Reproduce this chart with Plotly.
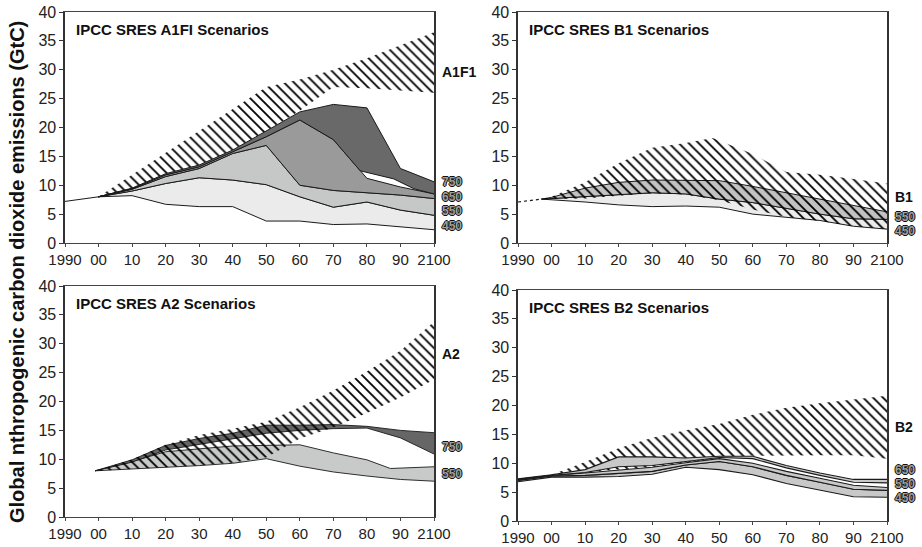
import plotly.graph_objects as go

# ---------------- data ----------------
years = [1990, 2000, 2010, 2020, 2030, 2040, 2050, 2060, 2070, 2080, 2090, 2100]
dec = years[1:]  # 2000..2100
tick_text = ["1990", "00", "10", "20", "30", "40", "50", "60", "70", "80", "90", "2100"]
y_ticks = [0, 5, 10, 15, 20, 25, 30, 35, 40]

# A1FI panel
a1_hist_x = [1990, 2000]
a1_hist_y = [7.2, 8.0]
a1_450_low = [8.0, 8.2, 6.7, 6.3, 6.3, 3.8, 3.8, 3.2, 3.3, 2.8, 2.3]
a1_450_up = [8.0, 9.0, 10.3, 11.3, 10.9, 10.1, 8.0, 6.2, 7.1, 5.7, 4.8]
a1_550_up = [8.0, 9.3, 11.5, 12.9, 15.5, 16.9, 10.0, 9.1, 8.7, 8.3, 7.7]
a1_650_up = [8.0, 9.4, 11.8, 13.2, 15.8, 18.4, 21.3, 17.9, 11.2, 9.7, 8.5]
a1_750_low_x = [2000, 2010, 2020, 2030, 2040, 2050, 2060, 2070, 2078, 2088, 2094, 2100]
a1_750_low = [8.0, 9.4, 11.8, 13.2, 15.8, 18.4, 21.3, 17.9, 12.5, 11.1, 9.4, 8.5]
a1_750_up = [8.0, 9.5, 12.0, 13.5, 16.1, 19.4, 22.7, 24.0, 23.4, 12.9, 10.6]
a1_hatch_low = [8.0, 9.5, 12.0, 13.5, 16.1, 19.4, 22.9, 27.0, 26.8, 26.4, 26.0]
a1_hatch_up = [8.0, 11.8, 15.6, 19.5, 23.3, 27.0, 28.3, 30.0, 32.0, 34.2, 36.5]

# B1 panel
b1_x = [1997, 2000, 2010, 2020, 2030, 2040, 2050, 2060, 2070, 2080, 2090, 2100]
b1_hist_x = [1990, 1997]
b1_hist_y = [7.1, 7.6]
b1_450_low = [7.6, 7.5, 7.1, 6.6, 6.3, 6.4, 6.2, 5.0, 4.4, 3.9, 2.9, 2.4]
b1_450_up = [7.6, 7.7, 8.0, 8.4, 8.7, 8.5, 7.6, 7.0, 6.0, 5.0, 4.2, 4.1]
b1_550_up = [7.6, 7.9, 9.5, 10.5, 10.9, 10.9, 10.8, 9.8, 8.7, 7.5, 6.4, 5.4]
b1_hatch_low = [7.6, 7.6, 7.7, 8.2, 8.6, 8.4, 7.4, 5.8, 4.5, 3.8, 2.9, 2.4]
b1_hatch_up_x = [1997, 2000, 2010, 2020, 2030, 2040, 2048, 2060, 2070, 2080, 2090, 2100]
b1_hatch_up = [7.6, 8.0, 10.5, 13.8, 16.5, 17.3, 18.2, 15.4, 12.3, 11.8, 11.1, 10.3]

# A2 panel
a2_x = [1999, 2010, 2020, 2030, 2040, 2050, 2060, 2070, 2080, 2090, 2100]
a2_550_low = [8.0, 8.3, 8.6, 8.9, 9.3, 10.1, 8.8, 7.8, 7.1, 6.5, 6.2]
a2_550_up_x = [1999, 2010, 2020, 2030, 2040, 2050, 2060, 2070, 2080, 2087, 2100]
a2_550_up = [8.0, 9.6, 11.3, 11.8, 12.3, 12.4, 12.5, 11.1, 9.9, 8.4, 8.7]
a2_750_low = [8.0, 9.5, 11.6, 12.6, 13.5, 14.5, 15.0, 15.3, 15.4, 13.7, 10.9]
a2_750_up = [8.0, 9.9, 12.4, 13.6, 14.5, 15.9, 15.9, 16.0, 15.7, 15.0, 14.6]
a2_hatch_x = [2000, 2010, 2020, 2030, 2040, 2050, 2060, 2070, 2080, 2090, 2100]
a2_hatch_low = [8.0, 8.4, 8.6, 8.9, 9.4, 10.3, 13.6, 15.5, 18.0, 20.7, 23.8]
a2_hatch_up = [8.1, 10.0, 12.5, 14.2, 15.3, 16.5, 19.0, 21.9, 25.2, 28.8, 33.8]

# B2 panel
b2_450_low = [6.8, 7.6, 7.6, 7.7, 8.1, 9.3, 8.9, 8.0, 6.5, 5.3, 4.2, 4.1]
b2_450_up = [7.0, 7.8, 7.9, 8.2, 8.6, 9.7, 10.3, 9.4, 7.9, 6.7, 5.5, 5.3]
b2_550_up = [7.1, 7.9, 8.3, 8.8, 9.3, 10.1, 10.8, 10.0, 8.6, 7.4, 6.2, 5.8]
b2_650_low = [7.2, 7.9, 8.4, 9.4, 9.6, 10.3, 11.0, 10.8, 9.2, 7.9, 6.7, 6.6]
b2_650_up = [7.3, 8.0, 8.9, 11.1, 11.1, 10.9, 11.2, 11.2, 9.6, 8.3, 7.2, 7.2]
b2_hatch_low = [7.9, 8.4, 8.9, 9.3, 10.1, 10.9, 11.3, 11.4, 11.4, 11.4, 10.8]
b2_hatch_up = [8.0, 10.2, 12.6, 14.4, 15.7, 16.8, 18.4, 19.6, 20.4, 21.1, 21.7]

panel_titles = ["IPCC SRES A1FI Scenarios", "IPCC SRES B1 Scenarios",
                "IPCC SRES A2 Scenarios", "IPCC SRES B2 Scenarios"]

# right-hand labels: (panel, text, value, outlined)
right_labels = [
    (1, "A1F1", 29.6, False), (1, "750", 10.5, True), (1, "650", 7.9, True),
    (1, "550", 5.5, True), (1, "450", 3.0, True),
    (2, "B1", 7.9, False), (2, "550", 4.5, True), (2, "450", 2.1, True),
    (3, "A2", 28.2, False), (3, "750", 12.1, True), (3, "550", 7.4, True),
    (4, "B2", 16.3, False), (4, "650", 8.8, True), (4, "550", 6.4, True), (4, "450", 3.9, True),
]

# ---------------- styles ----------------
C450 = "#ebebeb"
C550 = "#c6c8c8"
C650 = "#9a9a9a"
C750 = "#696969"
LINE = "#1a1a1a"
FONT = "Arial, Liberation Sans, sans-serif"

fig = go.Figure()


def axes(p):
    return ("x" if p == 1 else f"x{p}", "y" if p == 1 else f"y{p}")


def band(p, xl, yl, xu, yu, color, outline=True, lw=1.0):
    xa, ya = axes(p)
    fig.add_trace(go.Scatter(
        x=list(xu) + list(xl)[::-1], y=list(yu) + list(yl)[::-1],
        mode="lines", fill="toself", fillcolor=color,
        line=dict(width=0), xaxis=xa, yaxis=ya, hoverinfo="skip", showlegend=False))
    if outline:
        for xs, ys in ((xl, yl), (xu, yu)):
            fig.add_trace(go.Scatter(x=xs, y=ys, mode="lines",
                                     line=dict(color=LINE, width=lw),
                                     xaxis=xa, yaxis=ya, hoverinfo="skip", showlegend=False))


def hatch(p, xl, yl, xu, yu):
    xa, ya = axes(p)
    fig.add_trace(go.Scatter(
        x=list(xu) + list(xl)[::-1], y=list(yu) + list(yl)[::-1],
        mode="lines", fill="toself", fillcolor="rgba(0,0,0,0)",
        fillpattern=dict(shape="\\", fgcolor="#000000", bgcolor="rgba(0,0,0,0)",
                         fgopacity=1, size=7, solidity=0.26),
        line=dict(width=0), xaxis=xa, yaxis=ya, hoverinfo="skip", showlegend=False))


def line(p, xs, ys, dash="solid", color=LINE, width=1.0):
    xa, ya = axes(p)
    fig.add_trace(go.Scatter(x=xs, y=ys, mode="lines",
                             line=dict(color=color, width=width, dash=dash),
                             xaxis=xa, yaxis=ya, hoverinfo="skip", showlegend=False))


# ---- A1FI ----
hatch(1, dec, a1_hatch_low, dec, a1_hatch_up)
band(1, dec, a1_450_low, dec, a1_450_up, C450)
band(1, dec, a1_450_up, dec, a1_550_up, C550)
band(1, dec, a1_550_up, dec, a1_650_up, C650)
band(1, a1_750_low_x, a1_750_low, dec, a1_750_up, C750)
line(1, a1_hist_x, a1_hist_y)

# ---- B1 ----
band(2, b1_x, b1_450_low, b1_x, b1_450_up, C450)
band(2, b1_x, b1_450_up, b1_x, b1_550_up, "#c2c2c2")
hatch(2, b1_x, b1_hatch_low, b1_hatch_up_x, b1_hatch_up)
line(2, b1_hist_x, b1_hist_y, dash="dot", width=1.2)

# ---- A2 ----
band(3, a2_x, a2_550_low, a2_550_up_x, a2_550_up, "#c8caca", lw=0.9)
band(3, a2_x, a2_750_low, a2_x, a2_750_up, "#666666", lw=0.9)
hatch(3, a2_hatch_x, a2_hatch_low, a2_hatch_x, a2_hatch_up)

# ---- B2 ----
hatch(4, dec, b2_hatch_low, dec, b2_hatch_up)
band(4, years, b2_450_low, years, b2_450_up, "#c8c8c8", lw=1.1)
band(4, years, b2_450_up, years, b2_550_up, "#c8c8c8", lw=1.1)
band(4, years, b2_650_low, years, b2_650_up, "#c8c8c8", lw=1.1)

# ---------------- layout ----------------
W, H = 922, 547


def px(xs):
    return xs / W


def py(ys):
    return 1 - ys / H


xdom_left = [px(65), px(434)]
xdom_right = [px(518), px(887)]
ydoms = {1: [py(243), py(12)], 2: [py(243), py(12)],
         3: [py(517), py(286)], 4: [py(521), py(290)]}

layout = dict(width=W, height=H, margin=dict(l=0, r=0, t=0, b=0, pad=0, autoexpand=False),
              paper_bgcolor="white", plot_bgcolor="white", showlegend=False,
              font=dict(family=FONT, color="#222"))
for p in range(1, 5):
    xa_key = "xaxis" if p == 1 else f"xaxis{p}"
    ya_key = "yaxis" if p == 1 else f"yaxis{p}"
    xa, ya = axes(p)
    layout[xa_key] = dict(domain=xdom_left if p in (1, 3) else xdom_right,
                          anchor=ya, range=[1990, 2100], tickvals=years, ticktext=tick_text,
                          showgrid=False, zeroline=False, showline=True, mirror=True,
                          linecolor="#444", linewidth=1.4, ticks="outside", ticklen=3,
                          tickcolor="#444", automargin=False,
                          tickfont=dict(size=15, family=FONT, color="#222"))
    layout[ya_key] = dict(domain=ydoms[p], anchor=xa, range=[0, 40], tickvals=y_ticks,
                          showgrid=False, zeroline=False, showline=True, mirror=True,
                          linecolor="#333", linewidth=1.6, ticks="outside", ticklen=4,
                          tickcolor="#333", automargin=False,
                          tickfont=dict(size=16, family=FONT, color="#222"))
fig.update_layout(**layout)

ann = []
for p, title in enumerate(panel_titles, start=1):
    xa, ya = axes(p)
    ann.append(dict(text=f"<b>{title}</b>", xref=f"{xa} domain", yref=f"{ya} domain",
                    x=0.025, y=0.925, xanchor="left", yanchor="middle", showarrow=False,
                    font=dict(size=15, family=FONT, color="#111")))

for p, txt, val, outlined in right_labels:
    xa, ya = axes(p)
    if outlined:
        f = dict(size=12, family=FONT, color="#a0a0a0",
                 shadow="1px 0 0 #111, -1px 0 0 #111, 0 1px 0 #111, 0 -1px 0 #111")
    else:
        f = dict(size=14, family=FONT, color="#111")
    ann.append(dict(text=f"<b>{txt}</b>", xref=xa, yref=ya, x=2100, y=val,
                    xanchor="left", yanchor="middle", xshift=6, showarrow=False, font=f))

ann.append(dict(text="<b>Global nthropogenic carbon dioxide emissions (GtC)</b>",
                xref="paper", yref="paper", x=px(17), y=py(272), textangle=-90,
                xanchor="center", yanchor="middle", showarrow=False,
                font=dict(size=20, family=FONT, color="#111")))
fig.update_layout(annotations=ann)

# remove the default 8px page margin so the figure fills the window exactly
fig.write_html("out.html",
               config={"displayModeBar": False, "staticPlot": True},
               post_script="document.body.style.margin='0px';"
                           "document.documentElement.style.overflow='hidden';")
